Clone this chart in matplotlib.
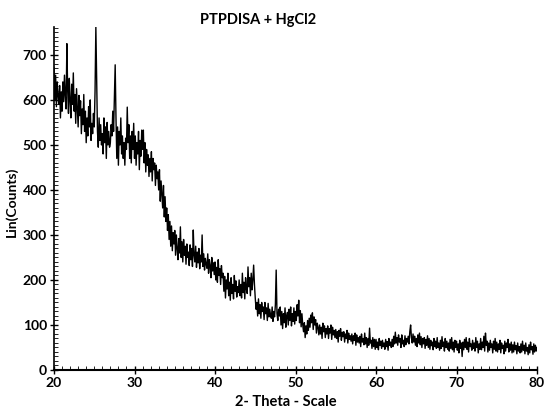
import numpy as np
import matplotlib
matplotlib.use("Agg")
import matplotlib.pyplot as plt
from matplotlib.ticker import MultipleLocator

title = "PTPDISA + HgCl2"
x_label = "2- Theta - Scale"
y_label = "Lin(Counts)"
x_start, x_step = 20.0, 0.1
x_ticks = [20, 30, 40, 50, 60, 70, 80]
y_ticks = [0, 100, 200, 300, 400, 500, 600, 700]

# counts, one row per degree (0.1 degree steps)
counts_20s = [
    672, 600, 655, 585, 640, 610, 590, 632, 560, 618,
    575, 640, 596, 655, 610, 580, 725, 620, 570, 648,
    600, 560, 635, 590, 660, 575, 612, 548, 625, 580,
    540, 610, 565, 598, 525, 580, 545, 612, 530, 575,
    505, 560, 520, 585, 540, 600, 510, 548, 525, 570,
    540, 620, 762, 650, 530, 495, 560, 510, 545, 500,
    525, 480, 560, 505, 540, 470, 550, 500, 530, 495,
    505, 545, 520, 575, 530, 600, 678, 560, 470, 540,
    455, 530, 500, 560, 480, 520, 470, 505, 455, 515,
    490, 584, 505, 545, 470, 520, 460, 530, 490, 548,
]
counts_30s = [
    470, 520, 455, 505, 480, 530, 445, 510, 475, 533,
    490, 533, 460, 505, 440, 490, 455, 478, 430, 470,
    440, 485, 420, 470, 445, 460, 410, 455, 425, 440,
    400, 445, 375, 420, 390, 360, 410, 340, 385, 330,
    360, 310, 345, 290, 330, 275, 320, 265, 305, 280,
    310, 255, 300, 270, 245, 292, 260, 318, 250, 285,
    240, 290, 255, 275, 235, 280, 250, 262, 232, 278,
    245, 270, 230, 311, 255, 240, 275, 228, 262, 238,
    270, 225, 255, 240, 300, 230, 258, 222, 248, 235,
    226, 258, 215, 245, 232, 205, 250, 220, 238, 212,
]
counts_40s = [
    240, 200, 228, 195, 245, 210, 225, 190, 232, 205,
    215, 175, 208, 160, 200, 180, 215, 165, 195, 155,
    205, 170, 190, 158, 210, 175, 198, 162, 185, 172,
    200, 165, 190, 160, 215, 172, 195, 158, 205, 180,
    170, 229, 185, 205, 165, 215, 178, 200, 233, 190,
    160, 135, 150, 120, 158, 125, 145, 115, 150, 130,
    140, 112, 150, 125, 138, 110, 148, 118, 135, 122,
    115, 140, 108, 130, 118, 145, 222, 125, 110, 135,
    120, 140, 100, 130, 92, 125, 105, 138, 95, 120,
    128, 100, 135, 110, 140, 98, 125, 108, 138, 102,
]
counts_50s = [
    130, 110, 145, 120, 155, 105, 132, 96, 125, 100,
    85, 105, 72, 98, 80, 110, 88, 115, 95, 122,
    105, 127, 90, 118, 100, 112, 82, 104, 95, 78,
    100, 80, 95, 70, 104, 85, 98, 72, 92, 80,
    98, 70, 92, 82, 100, 68, 95, 78, 88, 72,
    90, 70, 85, 62, 88, 75, 92, 66, 84, 74,
    85, 62, 80, 70, 88, 60, 82, 68, 76, 64,
    80, 58, 76, 66, 82, 55, 78, 62, 72, 60,
    75, 52, 80, 62, 70, 56, 82, 58, 72, 50,
    70, 55, 93, 60, 66, 48, 72, 52, 68, 46,
]
counts_60s = [
    68, 50, 62, 45, 70, 55, 64, 48, 66, 52,
    60, 46, 68, 52, 63, 44, 70, 55, 62, 50,
    68, 52, 75, 58, 84, 60, 72, 55, 78, 62,
    70, 50, 78, 58, 66, 52, 76, 56, 70, 62,
    75, 58, 85, 100, 72, 60, 80, 62, 75, 55,
    70, 52, 78, 60, 82, 56, 74, 50, 70, 58,
    72, 48, 68, 55, 76, 50, 70, 46, 66, 54,
    62, 45, 70, 52, 64, 48, 72, 50, 60, 44,
    66, 48, 74, 52, 62, 42, 70, 50, 64, 46,
    60, 42, 68, 48, 72, 45, 62, 40, 66, 50,
]
counts_70s = [
    64, 44, 58, 38, 66, 48, 60, 30, 62, 45,
    68, 50, 72, 46, 62, 40, 70, 52, 58, 44,
    66, 48, 60, 42, 72, 50, 64, 38, 58, 46,
    70, 45, 62, 50, 75, 42, 82, 55, 64, 40,
    60, 44, 66, 50, 58, 38, 64, 46, 70, 42,
    62, 40, 58, 46, 66, 38, 60, 48, 55, 36,
    64, 42, 60, 50, 68, 40, 58, 44, 62, 38,
    56, 40, 62, 45, 54, 36, 60, 42, 52, 38,
    58, 40, 64, 44, 55, 36, 60, 42, 50, 34,
    56, 38, 62, 45, 52, 35, 58, 40, 55, 42,
    50,
]

counts = counts_20s + counts_30s + counts_40s + counts_50s + counts_60s + counts_70s
two_theta = x_start + x_step * np.arange(len(counts))

plt.rcParams['font.family'] = ['Lato', 'DejaVu Sans']
fig = plt.figure(figsize=(5.47, 4.11), dpi=100)
ax = fig.add_axes([54/547, 41/411, (537-54)/547, (370-27)/411])
ax.plot(two_theta, counts, color='black', linewidth=1.0)

ax.set_xlim(20, 80)
ax.set_ylim(0, 762)
ax.set_xticks(x_ticks)
ax.set_yticks(y_ticks)
ax.xaxis.set_minor_locator(MultipleLocator(1))
ax.yaxis.set_minor_locator(MultipleLocator(10))
ax.tick_params(which='major', direction='inout', length=6, width=1,
               labelsize=10, pad=2)
ax.tick_params(which='minor', direction='in', length=3, width=0.6)
for lab in ax.get_xticklabels() + ax.get_yticklabels():
    lab.set_fontweight('bold')
ax.spines['top'].set_visible(False)
ax.spines['right'].set_visible(False)
ax.spines['left'].set_linewidth(1.2)
ax.spines['bottom'].set_linewidth(1.5)

fig.text(258/547, 1 - 20/411, title, ha='center', va='center',
         fontsize=10.5, fontweight='bold')
fig.text(286/547, 1 - 402/411, x_label, ha='center', va='center',
         fontsize=10.5, fontweight='bold')
fig.text(12/547, 1 - 202/411, y_label, ha='center', va='center',
         rotation=90, fontsize=10, fontweight='bold')

fig.savefig('out.png', dpi=100)
